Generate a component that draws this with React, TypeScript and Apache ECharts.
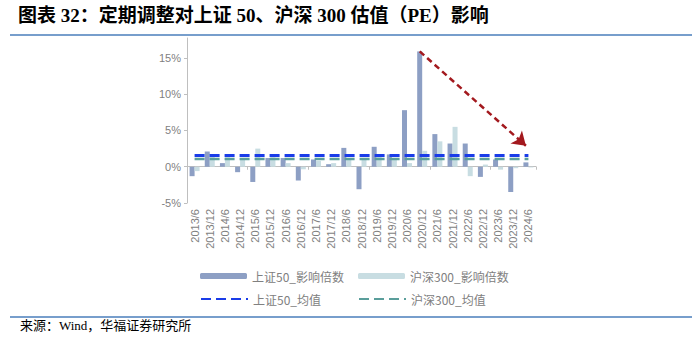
import React, { useEffect, useRef } from 'react';
import * as echarts from 'echarts';

const categories = [
  '2013/6', '2013/12', '2014/6', '2014/12', '2015/6', '2015/12', '2016/6', '2016/12',
  '2017/6', '2017/12', '2018/6', '2018/12', '2019/6', '2019/12', '2020/6', '2020/12',
  '2021/6', '2021/12', '2022/6', '2022/12', '2023/6', '2023/12', '2024/6',
];

// 上证50_影响倍数 (%)
const sz50Impact = [
  -1.3, 2.1, 0.5, -0.75, -2.1, 1.2, 1.2, -1.9,
  1.0, 0.35, 2.6, -3.1, 2.75, 1.7, 7.8, 15.9,
  4.5, 3.2, 3.2, -1.4, 1.0, -3.5, 0.6,
];

// 沪深300_影响倍数 (%)
const hs300Impact = [
  -0.6, 1.6, 1.3, 1.2, 2.5, 1.3, 0.5, -0.35,
  0.8, 0.5, 1.0, 1.0, 1.4, 1.0, 0.5, 2.2,
  3.5, 5.5, -1.3, 0.3, -0.4, -0.2, -0.1,
];

// 上证50_均值 (%)
const sz50Mean = [
  1.55, 1.55, 1.55, 1.55, 1.55, 1.55, 1.55, 1.55,
  1.55, 1.55, 1.55, 1.55, 1.55, 1.55, 1.55, 1.55,
  1.55, 1.55, 1.55, 1.55, 1.55, 1.55, 1.55,
];

// 沪深300_均值 (%)
const hs300Mean = [
  1.05, 1.05, 1.05, 1.05, 1.05, 1.05, 1.05, 1.05,
  1.05, 1.05, 1.05, 1.05, 1.05, 1.05, 1.05, 1.05,
  1.05, 1.05, 1.05, 1.05, 1.05, 1.05, 1.05,
];

const yTickValues = [-5, 0, 5, 10, 15];
const arrowStart = ['2020/12', 15.9];
const arrowEnd = ['2024/6', 2.9];

const seriesNames = ['上证50_影响倍数', '沪深300_影响倍数', '上证50_均值', '沪深300_均值'];

const titleText = '图表 32：定期调整对上证 50、沪深 300 估值（PE）影响';
const sourceText = '来源：Wind，华福证券研究所';

export default function App() {
  const ref = useRef<HTMLDivElement>(null);

  useEffect(() => {
    document.body.style.margin = '0';
    if (!ref.current) return;
    const chart = echarts.init(ref.current, undefined, { renderer: 'svg' });

    const axisGray = '#BFBFBF';
    const labelGray = '#7F7F7F';
    const legendText = {
      color: '#808080',
      fontSize: 12,
      fontFamily: "'Noto Sans CJK SC', sans-serif",
    };
    const barLegend = { padding: 0, itemWidth: 47, itemHeight: 6, textStyle: legendText, selectedMode: false };
    const lineLegend = {
      padding: 0,
      itemWidth: 47,
      itemHeight: 10,
      textStyle: legendText,
      selectedMode: false,
      itemStyle: { opacity: 0 },
    };

    const option: any = {
      animation: false,
      backgroundColor: '#ffffff',
      grid: { left: 187, right: 164, top: 38, bottom: 148, containLabel: false },
      legend: [
        { ...barLegend, data: [seriesNames[0]], left: 200, top: 270 },
        { ...barLegend, data: [seriesNames[1]], left: 358, top: 270 },
        { ...lineLegend, data: [seriesNames[2]], left: 200, top: 293 },
        { ...lineLegend, data: [seriesNames[3]], left: 358, top: 293 },
      ],
      xAxis: [
        {
          type: 'category',
          data: categories,
          position: 'bottom',
          axisLine: { show: false, onZero: false },
          axisTick: { show: false },
          axisLabel: {
            rotate: 90,
            interval: 0,
            margin: 6,
            color: labelGray,
            fontSize: 11,
            fontFamily: "'Liberation Sans', Arial, sans-serif",
          },
          splitLine: { show: false },
        },
        {
          type: 'category',
          data: categories,
          position: 'bottom',
          axisLine: { show: true, onZero: true, lineStyle: { color: axisGray, width: 1 } },
          axisTick: { show: true, length: 3, lineStyle: { color: axisGray } },
          axisLabel: { show: false },
          splitLine: { show: false },
        },
      ],
      yAxis: {
        type: 'value',
        min: -5,
        max: 17.75,
        axisLine: { show: true, lineStyle: { color: axisGray, width: 1 } },
        axisTick: { show: true, length: 3, lineStyle: { color: axisGray }, customValues: yTickValues },
        axisLabel: {
          customValues: yTickValues,
          formatter: (v: number) => `${v}%`,
          color: labelGray,
          fontSize: 11,
          margin: 6,
          fontFamily: "'Liberation Sans', Arial, sans-serif",
        },
        splitLine: { show: false },
      },
      series: [
        {
          name: seriesNames[0],
          type: 'bar',
          xAxisIndex: 0,
          data: sz50Impact,
          barWidth: 5,
          barGap: '0%',
          itemStyle: { color: '#8D9FC4' },
          emphasis: { disabled: true },
          markLine: {
            silent: true,
            symbol: ['none', 'arrow'],
            symbolSize: 13,
            label: { show: false },
            lineStyle: { color: '#A3191E', width: 2.5, type: [6, 4] },
            emphasis: { disabled: true },
            data: [[{ coord: arrowStart }, { coord: arrowEnd }]],
          },
        },
        {
          name: seriesNames[1],
          type: 'bar',
          xAxisIndex: 0,
          data: hs300Impact,
          barWidth: 5,
          barGap: '0%',
          itemStyle: { color: '#C8DDE2' },
          emphasis: { disabled: true },
        },
        {
          name: seriesNames[3],
          type: 'line',
          xAxisIndex: 0,
          data: hs300Mean,
          symbol: 'none',
          itemStyle: { color: '#5A9E9B' },
          lineStyle: { color: '#5A9E9B', width: 2.5, type: [10, 5] },
          emphasis: { disabled: true },
          z: 3,
        },
        {
          name: seriesNames[2],
          type: 'line',
          xAxisIndex: 0,
          data: sz50Mean,
          symbol: 'none',
          itemStyle: { color: '#1A3CE8' },
          lineStyle: { color: '#1A3CE8', width: 3, type: [10, 5] },
          emphasis: { disabled: true },
          z: 4,
        },
      ],
      graphic: [
        {
          type: 'text',
          left: 18,
          top: 6,
          style: {
            text: titleText,
            fill: '#000000',
            font: "bold 19px 'Liberation Serif', 'Noto Sans CJK SC', serif",
          },
        },
        {
          type: 'line',
          shape: { x1: 10, y1: 35, x2: 692, y2: 35 },
          style: { stroke: '#4A7EBB', lineWidth: 1.5 },
        },
        {
          type: 'line',
          shape: { x1: 10, y1: 317, x2: 692, y2: 317 },
          style: { stroke: '#4A7EBB', lineWidth: 1.5 },
        },
        {
          type: 'text',
          left: 20,
          top: 319,
          style: {
            text: sourceText,
            fill: '#000000',
            font: "13px 'Liberation Serif', 'Noto Sans CJK SC', serif",
          },
        },
      ],
    };

    chart.setOption(option);
    return () => chart.dispose();
  }, []);

  return <div ref={ref} style={{ width: 700, height: 351 }} />;
}
